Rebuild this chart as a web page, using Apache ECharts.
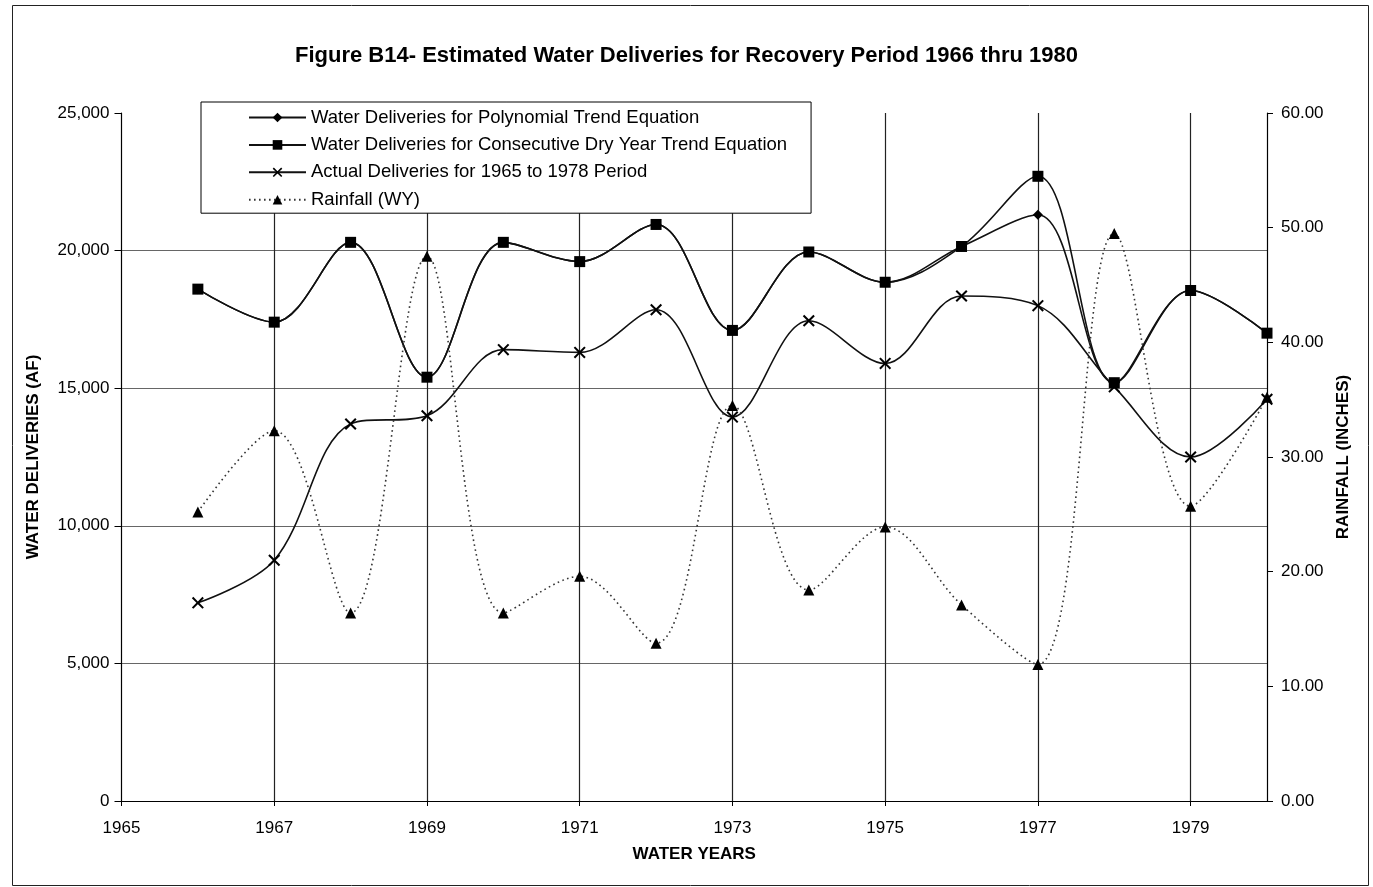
<!DOCTYPE html>
<html>
<head>
<meta charset="utf-8">
<script src="https://cdn.jsdelivr.net/npm/echarts@6/dist/echarts.min.js"></script>
<style>
  html, body { margin: 0; padding: 0; background: #fff; }
  #chart { width: 1373px; height: 887px; }
</style>
</head>
<body>
<div id="chart"></div>
<script>
// values
var years = [1966, 1967, 1968, 1969, 1970, 1971, 1972, 1973, 1974, 1975, 1976, 1977, 1978, 1979, 1980];
var polynomialTrend = [18600, 17400, 20300, 15400, 20300, 19600, 20950, 17100, 19950, 18850, 20150, 21300, 15200, 18550, 17000];
var dryYearTrend = [18600, 17400, 20300, 15400, 20300, 19600, 20950, 17100, 19950, 18850, 20150, 22700, 15200, 18550, 17000];
var actualDeliveries = [7200, 8750, 13700, 14000, 16400, 16300, 17850, 13950, 17450, 15900, 18350, 18000, 15050, 12500, 14600];
var rainfall = [25.2, 32.3, 16.4, 47.5, 16.4, 19.6, 13.75, 34.5, 18.4, 23.9, 17.1, 11.9, 49.5, 25.7, 35.2];

var seriesNames = [
  'Water Deliveries for Polynomial Trend Equation',
  'Water Deliveries for Consecutive Dry Year Trend Equation',
  'Actual Deliveries for 1965 to 1978 Period',
  'Rainfall (WY)'
];

var FONT = 'Arial, "Liberation Sans", sans-serif';
var crossSymbol = 'path://M0,1.2L1.2,0L5,3.8L8.8,0L10,1.2L6.2,5L10,8.8L8.8,10L5,6.2L1.2,10L0,8.8L3.8,5Z';

function pairs(vals) {
  return years.map(function (y, i) { return [y, vals[i]]; });
}

function lineSeries(name, vals, symbol, size, axisIdx, dotted) {
  return {
    name: name,
    type: 'line',
    yAxisIndex: axisIdx,
    data: pairs(vals),
    smooth: 0.35,
    symbol: symbol,
    symbolSize: size,
    showAllSymbol: true,
    lineStyle: dotted
      ? { color: '#333', width: 1.6, type: [1.6, 3.4] }
      : { color: '#111', width: 1.6 },
    itemStyle: { color: '#000' },
    emphasis: { disabled: true },
    animation: false
  };
}

var chart = echarts.init(document.getElementById('chart'));

var option = {
  backgroundColor: '#fff',
  title: {
    text: 'Figure B14- Estimated Water Deliveries for Recovery Period 1966 thru 1980',
    left: 'center',
    top: 40,
    textStyle: { fontFamily: FONT, fontSize: 22, fontWeight: 'bold', color: '#000' }
  },
  graphic: [{
    type: 'rect',
    left: 10, top: 3,
    shape: { width: 1356, height: 880 },
    style: { fill: 'none', stroke: '#222', lineWidth: 1 },
    silent: true
  }],
  legend: {
    orient: 'vertical',
    left: 201,
    top: 102,
    data: seriesNames,
    backgroundColor: '#fff',
    borderColor: '#000',
    borderWidth: 1,
    padding: [6, 24, 4, 47],
    itemWidth: 57,
    itemHeight: 12,
    itemGap: 8.4,
    textStyle: { fontFamily: FONT, fontSize: 18.5, color: '#000' },
    z: 10
  },
  grid: { left: 121.5, right: 106, top: 113, bottom: 86 },
  xAxis: {
    type: 'value',
    min: 1965,
    max: 1980,
    interval: 2,
    name: 'WATER YEARS',
    nameLocation: 'middle',
    nameGap: 45,
    nameTextStyle: { fontFamily: FONT, fontSize: 17, fontWeight: 'bold', color: '#000' },
    axisLine: { lineStyle: { color: '#000', width: 1.2 } },
    axisTick: { show: true, length: 5, lineStyle: { color: '#000' } },
    axisLabel: {
      fontFamily: FONT, fontSize: 17, color: '#000', margin: 19,
      showMaxLabel: false,
      formatter: function (v) { return String(v); }
    },
    splitLine: {
      show: true, showMinLine: false, showMaxLine: false,
      lineStyle: { color: '#222', width: 1.2 }
    }
  },
  yAxis: [{
    type: 'value',
    position: 'left',
    min: 0,
    max: 25000,
    interval: 5000,
    name: 'WATER DELIVERIES (AF)',
    nameLocation: 'middle',
    nameRotate: 90,
    nameGap: 80,
    nameTextStyle: { fontFamily: FONT, fontSize: 17, fontWeight: 'bold', color: '#000' },
    axisLine: { show: true, lineStyle: { color: '#000', width: 1.2 } },
    axisTick: { show: true, length: 7, lineStyle: { color: '#000' } },
    axisLabel: {
      fontFamily: FONT, fontSize: 17, color: '#000', margin: 12,
      formatter: function (v) { return v.toLocaleString('en-US'); }
    },
    splitLine: {
      show: true, showMinLine: false, showMaxLine: false,
      lineStyle: { color: '#666', width: 1.2 }
    }
  }, {
    type: 'value',
    position: 'right',
    min: 0,
    max: 60,
    interval: 10,
    name: 'RAINFALL (INCHES)',
    nameLocation: 'middle',
    nameRotate: 90,
    nameGap: 59,
    nameTextStyle: { fontFamily: FONT, fontSize: 17, fontWeight: 'bold', color: '#000' },
    axisLine: { show: true, lineStyle: { color: '#000', width: 1.2 } },
    axisTick: { show: true, length: 6, lineStyle: { color: '#000' } },
    axisLabel: {
      fontFamily: FONT, fontSize: 17, color: '#000', margin: 14,
      formatter: function (v) { return v.toFixed(2); }
    },
    splitLine: { show: false }
  }],
  series: [
    lineSeries(seriesNames[0], polynomialTrend, 'diamond', 10, 0, false),
    lineSeries(seriesNames[1], dryYearTrend, 'rect', 11, 0, false),
    lineSeries(seriesNames[2], actualDeliveries, crossSymbol, 12, 0, false),
    lineSeries(seriesNames[3], rainfall, 'triangle', 11, 1, true)
  ]
};

chart.setOption(option);
</script>
</body>
</html>
